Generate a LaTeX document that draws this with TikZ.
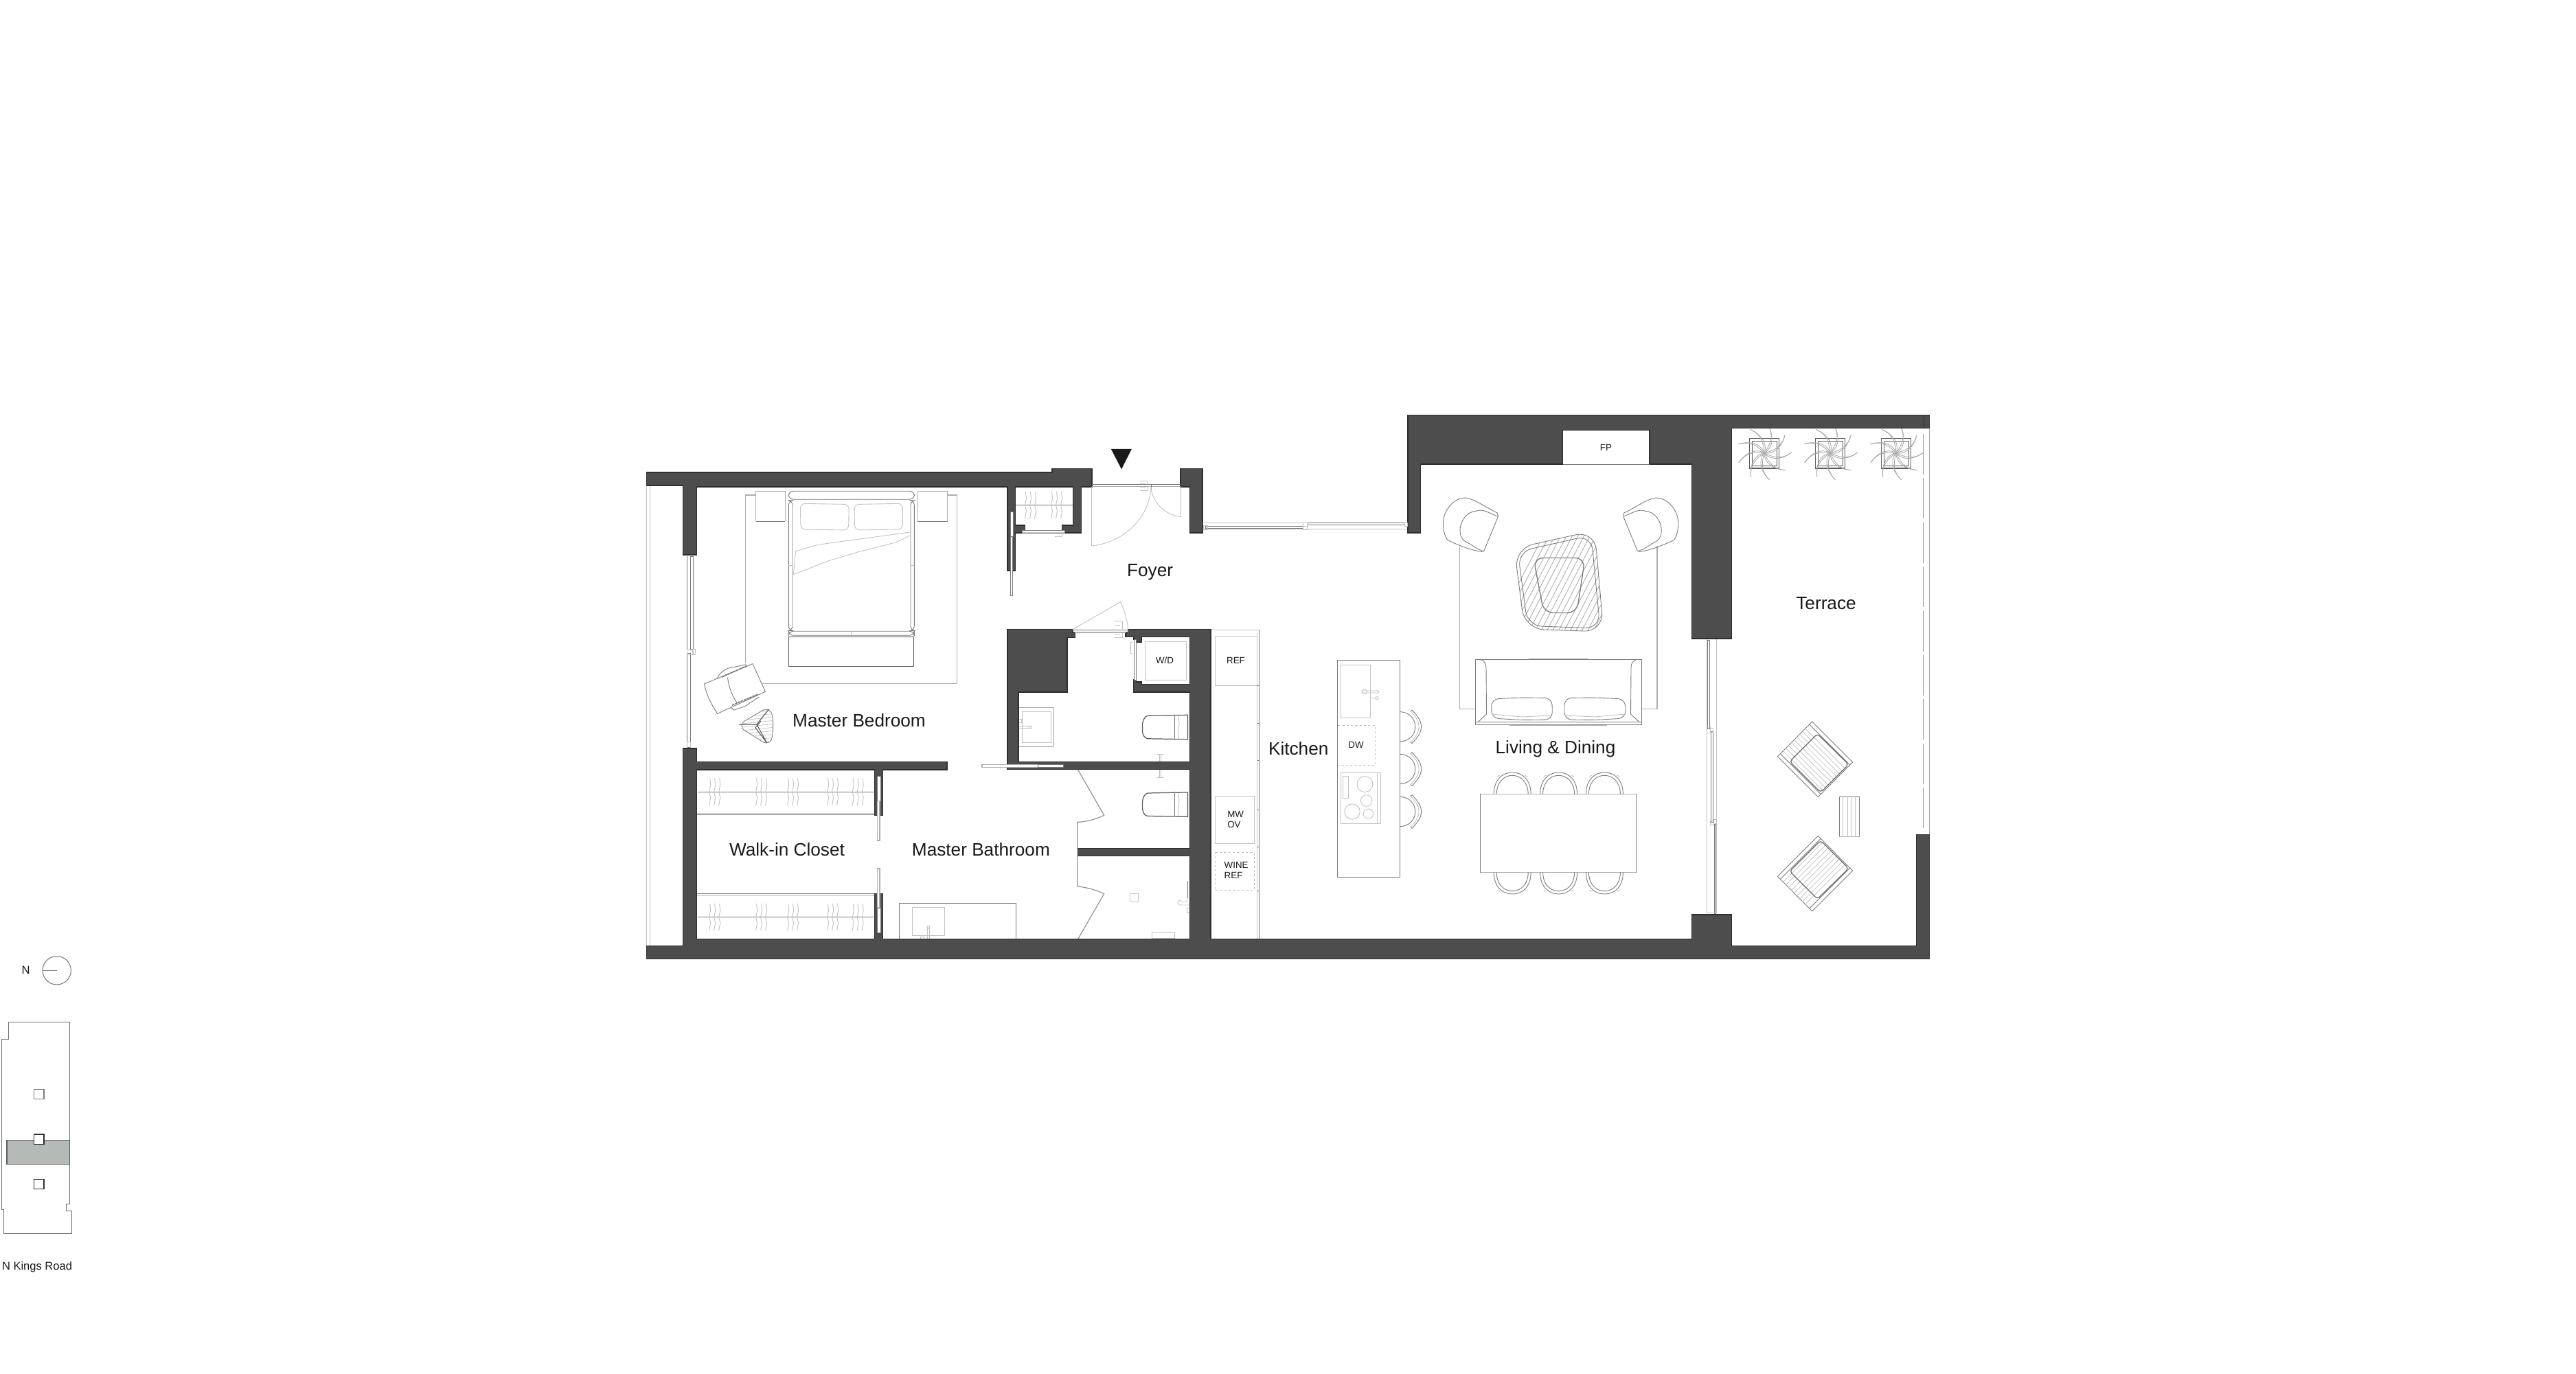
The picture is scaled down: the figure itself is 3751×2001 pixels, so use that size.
\documentclass[tikz,border=0pt]{standalone}
\usepackage{fontspec}
\setmainfont{Liberation Sans}
\definecolor{wallc}{HTML}{4D4D4D}
\definecolor{walle}{HTML}{2E2E2E}
\definecolor{keyg}{HTML}{B5BAB7}
\definecolor{inkc}{HTML}{1A1A1A}
\definecolor{lmid}{HTML}{7A7A7A}
\definecolor{llite}{HTML}{C2C2C2}
\tikzset{
  wallp/.style={fill=wallc,draw=walle,line width=0.4pt,line join=miter},
  ln/.style={draw=lmid,line width=0.25pt},
  ld/.style={draw=lmid!75!black,line width=0.3pt},
  lg/.style={draw=llite,line width=0.25pt},
  lgt/.style={draw=llite!90!black,line width=0.42pt},
  room/.style={inner sep=0pt,text=inkc,font=\fontsize{7.45}{9}\selectfont},
  tag/.style={inner sep=0pt,text=inkc,font=\fontsize{3.8}{4.3}\selectfont,align=left},
  keyt/.style={inner sep=0pt,text=inkc,font=\fontsize{4.7}{5.5}\selectfont},
  dsh/.style={draw=llite,line width=0.25pt,dash pattern=on 0.9pt off 0.9pt}
}
\newcommand{\hangset}[3]{%
  \foreach \dd in {-7,0,7}{
    \draw[lg] (#1+\dd,#2) -- (#1+\dd+1,#2+10) -- (#1+\dd-1,#2+20) -- (#1+\dd+1,#2+28) -- (#1+\dd-1,#3);
  }}
\newcommand{\planter}[2]{%
  \draw[ld,line width=0.36pt] (#1-21.8,#2-21) rectangle (#1+21.8,#2+22.4);
  \draw[ld] (#1-17.4,#2-17) rectangle (#1+18.4,#2+19);
  \foreach \aa in {0,40,...,320}{
    \begin{scope}[shift={(#1,#2)},rotate=\aa]
      \draw[llite!85!black,line width=0.23pt] (0,0) .. controls (12,-3) and (26,-8) .. (30,-26);
      \draw[llite!85!black,line width=0.23pt] (0,0) .. controls (8,2) and (24,-2) .. (30,-26);
    \end{scope}}
  \draw[lg] (#1,#2) circle[radius=2.5];
}
\newcommand{\loungeA}{%
  \draw[ln] (2180.3,747) .. controls (2160,737) and (2140,722) .. (2129,725.5)
     .. controls (2115,728) and (2100,745) .. (2101.5,765)
     .. controls (2102,775) and (2105,785) .. (2109,787)
     .. controls (2125,795) and (2145,802) .. (2158,803.5)
     -- (2161,802) -- (2181.5,752) -- cycle;
  \draw[ln] (2181,752) .. controls (2170,748) and (2158,740) .. (2149.7,744.3)
     .. controls (2135,745) and (2126,760) .. (2126,772)
     .. controls (2126,785) and (2132,788) .. (2140,792)
     .. controls (2148,797) and (2153,801) .. (2158.4,801.7);
}
\newcommand{\terchair}{%
  \draw[ln,fill=white] (2638.7,1051) -- (2697.7,1110) -- (2647.3,1160.7) -- (2588.3,1101.7) -- cycle;
  \foreach \tt in {0.16,0.24,...,0.85}{
    \draw[lg,line width=0.2pt] (2588.3+\tt*50.4,1101.7-\tt*50.7) -- ++(59,59);
  }
  \draw[ln] (2592.3,1097.7) -- (2651.3,1156.7);
  \draw[ln] (2634.7,1055) -- (2693.7,1114);
  \draw[ld,rounded corners=1.2] (2646.3,1068.7) -- (2691.7,1113.3) -- (2651,1154) -- (2606,1109) -- cycle;
}
\begin{document}
\begin{tikzpicture}[x=0.01cm,y=-0.01cm,line cap=butt]
\useasboundingbox (0,0) rectangle (3751,2001);
\fill[white] (0,0) rectangle (3751,2001);

% west window line
\draw[lg] (941.6,707) -- (941.6,1377.7);
\draw[lg] (946.5,707) -- (946.5,1377.7);

% rug master bedroom
\draw[lgt] (1085.4,966) -- (1085.4,721) -- (1100,721);
\draw[lgt] (1380,721) -- (1393.4,721) -- (1393.4,995.3) -- (1110,995.3);
% bed
\draw[lgt] (1100.5,759.3) -- (1100.5,715.3) -- (1143.4,715.3) -- (1143.4,759.3);
\draw[ln] (1100.5,759.3) -- (1143.4,759.3);
\draw[lgt] (1336.3,759.3) -- (1336.3,715.3) -- (1379.6,715.3) -- (1379.6,759.3);
\draw[ln] (1336.3,759.3) -- (1379.6,759.3);
\draw[ln,rounded corners=2] (1148.3,727.3) rectangle (1331.3,715.3);
\draw[ln,rounded corners=2] (1148.3,728.7) rectangle (1154,918.7);
\draw[ln,rounded corners=2] (1326,728.7) rectangle (1331.3,918.7);
\draw[ln,rounded corners=2] (1148.3,919.3) rectangle (1331.3,925.3);
\draw[lg] (1239.5,919.3) -- (1239.5,925.3);
\draw[ld] (1148.3,927.3) rectangle (1330.4,970.3);
\draw[lg,rounded corners=2] (1165.3,733.3) -- (1236.3,734.5) -- (1235.5,772) -- (1166,771) -- cycle;
\draw[lg,rounded corners=2] (1244,734.5) -- (1314.4,733.3) -- (1314.4,771) -- (1244.5,772) -- cycle;
\draw[lg] (1325,775) -- (1191.2,793.3) -- (1158.6,802.7) -- (1155.4,836.7) -- (1206.8,816.7) -- (1251.4,803.3) -- (1304.1,790) -- (1325,780);
\draw[lg] (1154,823) -- (1148.3,823) (1326,823) -- (1331.3,823);

% lounge chair and side table
\draw[ln,fill=white] (1025.5,996) -- (1096,966.7) -- (1114.4,1007.3) -- (1044.7,1039.3) .. controls (1035,1025) and (1028,1010) .. cycle;
\draw[ln] (1059.5,986.7) .. controls (1061,1000) and (1066,1013) .. (1072.9,1023.3);
\draw[ln] (1043.8,989) .. controls (1046,982) and (1052,977) .. (1060,973.3) -- (1086.3,967.7);
\draw[ln,line width=0.5pt,dash pattern=on 1pt off 0.3pt] (1051,986) -- (1088,969.5);
\draw[ln,line width=0.5pt,dash pattern=on 1pt off 0.3pt] (1066,1027) -- (1104,1011);
\draw[ln] (1064,1030) -- (1069,1034) -- (1084,1029) -- (1105.4,1015);
\draw[ln,rounded corners=4] (1072.9,1056.7) -- (1122,1027.7) -- (1127,1056.7) -- (1122,1087.5) -- cycle;
\begin{scope}
  \clip[rounded corners=4] (1072.9,1056.7) -- (1122,1027.7) -- (1127,1056.7) -- (1122,1087.5) -- cycle;
  \foreach \yy in {1032,1037,...,1087}{\draw[lg,line width=0.2pt] (1070,\yy+3) -- (1130,\yy-3);}
\end{scope}
\draw[ld] (1101.9,1055) -- (1119.7,1032.7) (1101.9,1055) -- (1076,1055) (1101.9,1055) -- (1116.6,1081.7) (1108,1050) -- (1100,1060) -- (1116.6,1081.7);

% west window
\draw[ln] (1005,810) rectangle (1009.5,946.7);
\draw[ln] (1000.5,810) -- (1000.5,1088);
\draw[ln] (1000.5,951.7) rectangle (1005,1088);
\draw[lg] (1000,945) rectangle (1008,953);
\draw[lg] (1000,1080) rectangle (1005,1089);
\draw[lg] (1009.5,945) rectangle (1012,953);

% closets
\draw[ln] (1014.4,1121) rectangle (1273.7,1186.7);
\draw[lg] (1014.4,1184) -- (1273.7,1184);
\draw[ln] (1016,1153.3) -- (1272,1153.3);
\draw[ln] (1014.4,1301.7) rectangle (1273.7,1367.7);
\draw[lg] (1014.4,1304) -- (1273.7,1304);
\draw[ln] (1016,1335.3) -- (1272,1335.3);
\foreach \hx in {1040.7,1108.6,1154.6,1212.6,1249.2}{
  \hangset{\hx}{1133.3}{1173.3}
  \hangset{\hx}{1316}{1355.3}
}
\draw[ln] (1478.6,735) -- (1562.6,735);
\hangset{1500.5}{716}{755.7}
\hangset{1538.5}{716}{755.7}

% fixtures
\draw[lg,draw=lmid!70!white] (1483,1030.3) rectangle (1534.8,1087.3);
\draw[lg] (1488.4,1036) rectangle (1530,1081.7);
\draw[lg] (1483,1057.5) -- (1500,1057.5) (1483,1060.5) -- (1500,1060.5);
\draw[lg] (1500.4,1059) circle[radius=2];
\draw[lg] (1483,1047.5) rectangle (1487,1052);
\draw[ln] (1309.5,1367.7) -- (1309.5,1315.7) -- (1479,1315.7) -- (1479,1367.7);
\draw[lg] (1328.7,1321.3) rectangle (1375.5,1362.3);
\draw[lg] (1350.5,1350) -- (1350.5,1367.7) (1353.5,1350) -- (1353.5,1367.7);
\draw[lg] (1352,1350) circle[radius=2];
\draw[lg] (1340,1364) rectangle (1345,1367.7);

% WC
\foreach \wy in {1041.3,1154}{
  \draw[ld,line width=0.35pt] (1729.5,\wy) -- (1695,\wy+0.5) -- (1672,\wy+1) .. controls (1665,\wy+2) and (1663.4,\wy+10) .. (1663.4,\wy+18)
     .. controls (1663.4,\wy+28) and (1665,\wy+34) .. (1672,\wy+34.5) -- (1729.5,\wy+35.4) -- cycle;
  \draw[ln] (1710.3,\wy) -- (1710.3,\wy+35);
  \draw[lg] (1716,\wy+1) -- (1717,\wy+12) -- (1716,\wy+24) -- (1716.5,\wy+35);
}
% towel bars
\draw[lg] (1683.5,1098.3) -- (1695,1098.3) (1683.5,1132.7) -- (1695,1132.7);
\draw[lg] (1688,1098.3) -- (1688,1109) (1690.5,1098.3) -- (1690.5,1109);
\draw[lg] (1688,1121) -- (1688,1132.7) (1690.5,1121) -- (1690.5,1132.7);

% shower doors
\draw[lmid!80!white,line width=0.35pt] (1569.6,1121) -- (1607.6,1187.3) .. controls (1596,1193) and (1582,1197) .. (1568.8,1197.3) -- (1568.8,1235.3);
\draw[lmid!80!white,line width=0.35pt] (1568.8,1246.7) -- (1568.8,1291) .. controls (1582,1292) and (1596,1296) .. (1607.6,1301.7) -- (1569.6,1367.7);
\draw[lg] (1645.5,1301.3) rectangle (1657.6,1313.3);
\draw[ln] (1729,1283.3) -- (1729,1308);
\draw[lg] (1729,1308) -- (1729,1313) -- (1720,1313) .. controls (1716,1307) and (1712,1315) .. (1718,1318) -- (1732,1318);
\draw[lg] (1728.5,1322) rectangle (1732.6,1328);
\draw[lg] (1677.2,1367.7) -- (1677.2,1357.3) -- (1710.7,1357.3) -- (1710.7,1367.7);
\draw[lg] (1677.2,1366) -- (1710.7,1366);

% W/D
\draw[lg] (1667,934.3) rectangle (1727.7,990.7);

% Kitchen counter
\draw[lg] (1763,917) -- (1833,917);
\draw[ln] (1833,917) -- (1833,1366.5);
\draw[lg] (1830.8,922) -- (1830.8,1366.5);
\foreach \ty in {998,1053,1107,1179,1233,1297}{\draw[ln] (1830.8,\ty) -- (1833,\ty);}
\draw[lg] (1769,926) rectangle (1830,998);
\draw[lg] (1769,1159) rectangle (1826,1228);
\draw[dsh] (1769,1241) rectangle (1826,1296.7);

% island
\draw[ln,fill=white,line width=0.3pt] (1947.8,961.3) rectangle (2038.8,1277.3);
\draw[lg] (1952,968) rectangle (1995.5,1045.7);
\draw[lg] (1987,1007.3) circle[radius=3.5];
\draw[lg] (1982,1006) -- (2005,1006) (1982,1009) -- (2005,1009) (2005,1005) -- (2008,1007.5) -- (2005,1010);
\draw[lg] (1997,1016.7) -- (2004,1016.7) (2005,1016.7) circle[radius=2];
\draw[dsh] (1948,1056.7) -- (2002.7,1056.7) -- (2002.7,1114.3) -- (1948,1114.3);
\draw[lg] (1952,1125) rectangle (2005.8,1199);
\draw[lg] (2005.8,1125) rectangle (2010.7,1199);
\draw[lg] (1955,1130) rectangle (1963,1162.7);
\draw[lg] (1987.5,1142) circle[radius=11.5];
\draw[lg] (1989.7,1166) circle[radius=8.3];
\draw[lg] (1969,1182) circle[radius=11.2];
\draw[lg] (1992.4,1185.3) circle[radius=7.2];
% stools
\foreach \yc in {1058.3,1120,1182}{
  \draw[ln] (2038.8,\yc-21.7) .. controls (2052,\yc-21) and (2060.7,\yc-12) .. (2060.7,\yc) .. controls (2060.7,\yc+12) and (2052,\yc+21) .. (2038.8,\yc+21.7);
  \draw[ln] (2056,\yc-24.3) .. controls (2065,\yc-15) and (2069.6,\yc-8) .. (2069.6,\yc) .. controls (2069.6,\yc+8) and (2065,\yc+15) .. (2056,\yc+24.3);
  \draw[lg] (2054,\yc-22.5) .. controls (2062,\yc-14) and (2066,\yc-8) .. (2066,\yc) .. controls (2066,\yc+8) and (2062,\yc+14) .. (2054,\yc+22.5);
  \draw[ln] (2054,\yc-22.5) -- (2056,\yc-24.3) (2054,\yc+22.5) -- (2056,\yc+24.3);
}

% living rug
\draw[lgt] (2125.7,795) -- (2125.7,1032.3) -- (2148,1032.3);
\draw[lgt] (2413,795) -- (2413,1032.3) -- (2390.5,1032.3);
% armchairs
\loungeA
\begin{scope}[shift={(4545.2,0)},xscale=-1]
\loungeA
\end{scope}
% coffee table
\begin{scope}
  \clip[rounded corners=8] (2205,798.7) -- (2322,772.7) -- (2335,920) -- (2220,916) -- cycle;
  \foreach \ii in {0,1,...,27}{
    \draw[llite!85!black,line width=0.22pt] (2170+\ii*8.5,930) -- (2255+\ii*8.5,765);
  }
\end{scope}
\draw[ln,rounded corners=8] (2205,798.7) -- (2322,772.7) -- (2335,920) -- (2220,916) -- cycle;
\draw[ln,rounded corners=6] (2210,803.5) -- (2317,779.5) -- (2330,915) -- (2224.5,911.5) -- cycle;
\draw[draw=lmid!90!white,line width=0.42pt,rounded corners=4] (2232.9,812.5) -- (2308,812.5) -- (2296,892.5) -- (2248,892.5) -- cycle;
% sofa
\draw[ln,fill=white] (2148,960) rectangle (2390.5,1055.7);
\draw[ln] (2148,1051.7) -- (2390.5,1051.7);
\draw[ln] (2155,960) .. controls (2161,962) and (2164,966) .. (2164,972) -- (2164.5,1040) -- (2152,1051.7);
\draw[ln] (2384,960) .. controls (2378,962) and (2375,966) .. (2375,972) -- (2374.5,1040) -- (2387,1051.7);
\draw[lgt] (2226,959.5) -- (2312,959.5) (2198,1056.5) -- (2340,1056.5);
\draw[ln,rounded corners=3] (2171.6,1018) -- (2215,1016) -- (2260,1016.5) -- (2260.4,1048) -- (2215,1048.5) -- (2172,1046) -- cycle;
\draw[ln,rounded corners=3] (2278,1016.5) -- (2322,1016) -- (2366.5,1018) -- (2367,1046) -- (2322,1048.5) -- (2278,1048) -- cycle;
\draw[lg] (2172,1040) -- (2215,1044) -- (2260,1042) (2278,1042) -- (2322,1044) -- (2367,1040);

% dining
\draw[ln] (2155.8,1156.7) rectangle (2382.3,1270.3);
\draw[lgt] (2155.8,1156.7) -- (2382.3,1156.7) (2155.8,1270.3) -- (2382.3,1270.3);
\foreach \cx in {2202.2,2269.6,2336.4}{
  \draw[ln] (\cx-27,1156.7) .. controls (\cx-27,1136) and (\cx-15,1125) .. (\cx,1125) .. controls (\cx+15,1125) and (\cx+27,1136) .. (\cx+27,1156.7);
  \draw[ln] (\cx-23,1156.7) .. controls (\cx-23,1140) and (\cx-13,1129.3) .. (\cx,1129.3) .. controls (\cx+13,1129.3) and (\cx+23,1140) .. (\cx+23,1156.7);
  \draw[lg] (\cx-22,1131) -- (\cx-18,1129) (\cx+18,1129) -- (\cx+22,1131);
  \begin{scope}[shift={(0,2427)},yscale=-1]
  \draw[ln] (\cx-27,1156.7) .. controls (\cx-27,1136) and (\cx-15,1125) .. (\cx,1125) .. controls (\cx+15,1125) and (\cx+27,1136) .. (\cx+27,1156.7);
  \draw[ln] (\cx-23,1156.7) .. controls (\cx-23,1140) and (\cx-13,1129.3) .. (\cx,1129.3) .. controls (\cx+13,1129.3) and (\cx+23,1140) .. (\cx+23,1156.7);
  \draw[lg] (\cx-22,1131) -- (\cx-18,1129) (\cx+18,1129) -- (\cx+22,1131);
  \end{scope}
}

% east glazing
\draw[lg] (2485.4,930) -- (2485.4,1330);
\draw[lg] (2499.7,930) -- (2499.7,1330);
\draw[ln] (2486.4,932) rectangle (2489.4,1061.7);
\draw[ln] (2491.5,1065) rectangle (2494,1197);
\draw[ln] (2496,1200) rectangle (2498.7,1330);
\draw[lg] (2485.4,1058) rectangle (2490,1067);
\draw[lg] (2490,1060) rectangle (2494,1066);
\draw[lg] (2490.5,1194) rectangle (2495,1201);
\draw[lg] (2495,1193) rectangle (2499,1199);
\draw[lg] (2485.4,1329) -- (2499.7,1329);

% terrace
\draw[lmid!70!white,line width=0.28pt] (2809.4,623.7) -- (2809.4,1215.7);
\foreach \iy in {0,...,8}{
  \draw[lmid!85!white,line width=0.3pt] (2800,632+\iy*64.4) -- (2800,632+\iy*64.4+59);
}
\planter{2569}{659.7}
\planter{2665}{659.7}
\planter{2761}{659.7}
\terchair
\begin{scope}[shift={(0,2378)},yscale=-1]
\terchair
\end{scope}
\draw[ln] (2678.3,1160.3) rectangle (2707.7,1218.3);
\draw[lgt] (2678.3,1218.3) -- (2707.7,1218.3);
\foreach \tx in {2683,2690,2695.5,2701.5}{\draw[lg,line width=0.2pt] (\tx,1160.3) -- (\tx,1218.3);}

% walls
\draw[wallp] (941.6,688) -- (1532,688) -- (1532,682.7) -- (1590,682.7) -- (1590,709) -- (1574.6,709) -- (1574.6,776) -- (1550,776) -- (1550,772.3) -- (1546.5,772.3) -- (1546.5,765) -- (1562.6,765) -- (1562.6,709) -- (1478.6,709) -- (1478.6,765) -- (1492.5,765) -- (1492.5,772.3) -- (1488.5,772.3) -- (1488.5,776) -- (1478.6,776) -- (1478.6,831) -- (1467,831) -- (1467,709) -- (1014.4,709) -- (1014.4,808) -- (994.7,808) -- (994.7,707) -- (941.6,707) -- cycle;
\draw[wallp] (941.6,1396.7) -- (2809.4,1396.7) -- (2809.4,1215.7) -- (2790.5,1215.7) -- (2790.5,1377.3) -- (2521.6,1377.3) -- (2521.6,1332) -- (2463.5,1332) -- (2463.5,1367.5) -- (1763,1367.5) -- (1763,916.7) -- (1642.4,916.7) -- (1642.4,921) -- (1638.8,921) -- (1638.8,927.3) -- (1651,927.3) -- (1651,931.7) -- (1654.5,931.7) -- (1654.5,935) -- (1662,935) -- (1662,927.3) -- (1732.6,927.3) -- (1732.6,996.7) -- (1662,996.7) -- (1662,993) -- (1654.5,993) -- (1654.5,990) -- (1650.4,990) -- (1650.4,1008) -- (1732.6,1008) -- (1732.6,1109.3) -- (1483,1109.3) -- (1483,1008) -- (1554,1008) -- (1554,928.3) -- (1565.2,928.3) -- (1565.2,921) -- (1562,921) -- (1562,916.7) -- (1467,916.7) -- (1467,1120.7) -- (1732.6,1120.7) -- (1732.6,1235.3) -- (1569.6,1235.3) -- (1569.6,1246.7) -- (1732.6,1246.7) -- (1732.6,1367.7) -- (1285.4,1367.7) -- (1285.4,1301.7) -- (1273.7,1301.7) -- (1273.7,1367.7) -- (1014.4,1367.7) -- (1014.4,1121) -- (1273.7,1121) -- (1273.7,1187.3) -- (1285.4,1187.3) -- (1285.4,1121) -- (1379,1121) -- (1379,1109.3) -- (1014.4,1109.3) -- (1014.4,1090) -- (994.7,1090) -- (994.7,1377.7) -- (941.6,1377.7) -- cycle;
\draw[wallp] (2050,604.3) -- (2809.4,604.3) -- (2809.4,623.7) -- (2521.6,623.7) -- (2521.6,930) -- (2463.5,930) -- (2463.5,676) -- (2402,676) -- (2402,626.7) -- (2275.7,626.7) -- (2275.7,676) -- (2068.6,676) -- (2068.6,776) -- (2050,776) -- cycle;
\draw[walle,line width=0.3pt] (2801.7,604.3) -- (2801.7,623.7);
\draw[wallp] (1718.8,682.7) -- (1751,682.7) -- (1751,776) -- (1732.6,776) -- (1732.6,709) -- (1718.8,709) -- cycle;

% doors
\draw[ln,fill=white] (1471,745) rectangle (1475.5,781);
\draw[ln,fill=white] (1471.5,781) rectangle (1474.5,867.7);
\draw[ln,fill=white] (1488.5,772.3) rectangle (1550,776);
\draw[lg] (1488.5,775) -- (1550,775);
\draw[lg] (1536,781) -- (1546,781) (1546,776) -- (1546,781);
\draw[ln] (1590,705.7) -- (1718.8,705.7);
\draw[lgt] (1590,708.5) -- (1718.8,708.5);
\draw[ln] (1676,705.7) -- (1676,712);
\draw[lg] (1589.7,709) -- (1589.7,795);
\draw[lg] (1589.7,795) .. controls (1636,790) and (1674,755) .. (1676,709);
\draw[lg] (1719.6,709) -- (1719.6,752.7);
\draw[lg] (1719.6,752.7) .. controls (1695,750) and (1677,730) .. (1676,709);
\draw[lg] (1660,700) -- (1671,700) -- (1671,705) (1660,704) -- (1668,704);
\draw[lg] (1660,714) -- (1671,714) -- (1671,709) (1660,710) -- (1668,710);
% north slider
\draw[lg] (1751,761) -- (2050,761);
\draw[lg] (1751,770.7) -- (1898,770.7);
\draw[lg] (1902,770.7) -- (2048,770.7);
\draw[ln] (1755,766) rectangle (1897,769);
\draw[ln] (1903,761.7) rectangle (2045,764.7);
\draw[lg] (1752.7,765) rectangle (1758,771);
\draw[lg] (1897,761) rectangle (1903,766);
\draw[lg] (1897,766) rectangle (1903,771);
\draw[lg] (2045,761) rectangle (2049.5,766);
% powder door
\draw[ln,fill=white] (1562,917.3) rectangle (1642.4,920);
\draw[lgt] (1565,921) -- (1639,921);
\draw[lg] (1562,916.7) -- (1631.3,876.7);
\draw[lg] (1631.3,876.7) .. controls (1638,890) and (1642,905) .. (1642.4,916.7);
\draw[lg] (1623,904) -- (1634,904) -- (1634,916) (1623,910) -- (1631,910);
\draw[lg] (1623,928) -- (1634,928) -- (1634,922) (1623,924) -- (1631,924);
% W/D bifold
\draw[ln,fill=white] (1651,931.7) rectangle (1654.5,990);
\draw[lg] (1649,935) -- (1646,935) -- (1646,951) -- (1649,951);
% master bath pocket door
\draw[lgt,fill=white] (1430,1113.3) rectangle (1511.7,1117.7);
\draw[ln,fill=white] (1511.7,1113.3) rectangle (1548,1117.7);
% walk-in pocket doors
\draw[ln,fill=white] (1277,1130.7) rectangle (1282,1166.7);
\draw[lgt,fill=white] (1277.7,1166.7) rectangle (1281,1224);
\draw[lgt,fill=white] (1277.7,1265) rectangle (1281,1322);
\draw[ln,fill=white] (1277,1322) rectangle (1282,1358);
\draw[ln] (2275.7,676) -- (2402,676);

% entry arrow
\fill[inkc] (1617.9,654) -- (1647.8,654) -- (1633,683.3) -- cycle;

% labels
\node[room] (mbed) at (1251,1049) {Master Bedroom};
\node[room] (wic) at (1146,1236.7) {Walk-in Closet};
\node[room] (mbath) at (1428.4,1237) {Master Bathroom};
\node[room] (foyer) at (1674.6,833) {Foyer};
\node[room] (kit) at (1890.7,1090) {Kitchen};
\node[room] (ldin) at (2265,1091) {Living \& Dining};
\node[room] (terr) at (2659,878.5) {Terrace};
\node[tag] (wd) at (1696,962) {W/D};
\node[tag] (ref) at (1799.5,962) {REF};
\node[tag] (dw) at (1974.5,1085) {DW};
\node[tag,anchor=west] (mw) at (1786.6,1193.5) {MW\\OV};
\node[tag,anchor=west] (wine) at (1782,1267.5) {WINE\\REF};
\node[tag] (fp) at (2338.5,652) {FP};

% key plan
\node[keyt] (nn) at (37.7,1412.5) {N};
\draw[lmid,line width=0.3pt] (82.7,1413.3) circle[radius=20.7];
\draw[lmid,line width=0.3pt] (62,1413.3) -- (82.7,1413.3);
\draw[keyg!60!black,line width=0.28pt] (12.3,1488.3) -- (101.3,1488.3) -- (101.3,1753) -- (96.7,1753) -- (96.7,1763.3) -- (104,1763.3) -- (104,1796.3) -- (5.3,1796.3) -- (5.3,1761.3) -- (2.3,1761.3) -- (2.3,1513) -- (12.3,1513) -- cycle;
\draw[fill=keyg,draw=keyg!50!black,line width=0.3pt] (10,1660.5) rectangle (101.3,1695.8);
\draw[lmid,line width=0.4pt] (49.7,1586.5) rectangle (64,1600.7);
\draw[walle,line width=0.4pt,fill=white] (49.7,1652) rectangle (64,1666.3);
\draw[walle,line width=0.4pt] (49.7,1717.3) rectangle (64,1731.7);
\node[keyt] (road) at (54,1845) {N Kings Road};
\end{tikzpicture}
\end{document}
